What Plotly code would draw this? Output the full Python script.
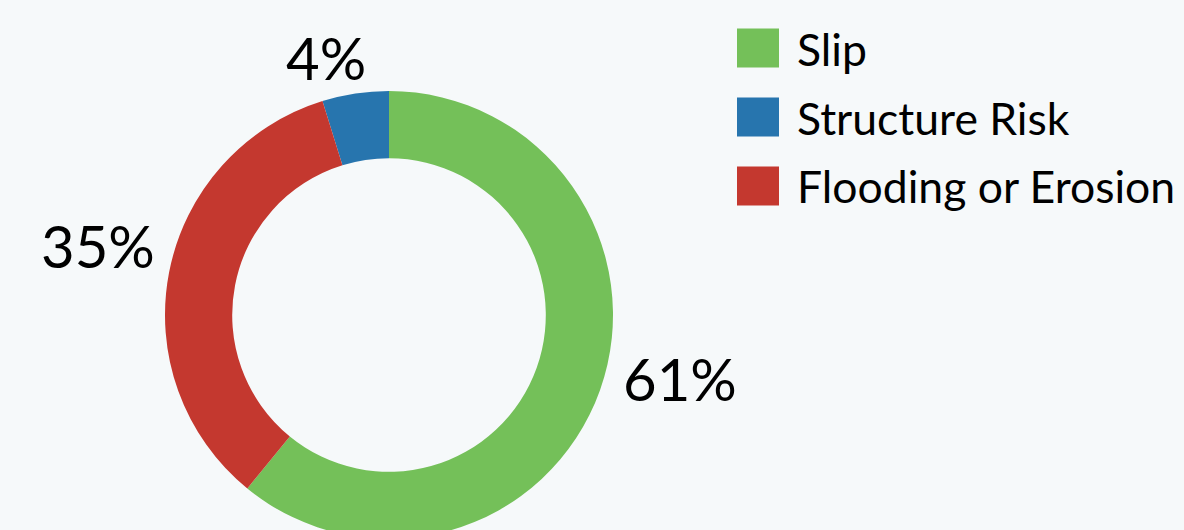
import math
import plotly.graph_objects as go

# ---- data ----
categories = ["Slip", "Structure Risk", "Flooding or Erosion"]
shares = [60.9, 4.8, 34.3]          # slice sizes
share_labels = ["61%", "4%", "35%"]  # printed labels
colors = ["#74c059", "#2775ae", "#c4382f"]

W, H = 1184, 550
BG = "#f6f9fa"
FONT = "Lato"

def py(y):
    return 1 - y / H

def px(x):
    return x / W

cx, cy, R = 389, 315, 224
# label anchor points (pixels, layout only)
label_xy = [(680, 378), (326, 57), (98, 245)]

fig = go.Figure(go.Pie(
    labels=categories,
    values=shares,
    textinfo="none",
    marker=dict(colors=colors, line=dict(width=0)),
    hole=0.70,
    sort=False,
    direction="counterclockwise",
    rotation=0,
    showlegend=False,
    hoverinfo="label+percent",
    domain=dict(x=[px(cx - R), px(cx + R)], y=[py(cy + R), py(cy - R)]),
))

shapes = []
annotations = []
for lab, (lx, ly) in zip(share_labels, label_xy):
    annotations.append(dict(x=px(lx), y=py(ly), xref="paper", yref="paper",
                            text=lab, showarrow=False, xanchor="center", yanchor="middle",
                            font=dict(family=FONT, size=58, color="#000000")))

# custom legend with large swatches
row0, step = 48, 69
for i, (name, col) in enumerate(zip(categories, colors)):
    yc = row0 + i * step
    shapes.append(dict(type="rect", xref="paper", yref="paper",
                       x0=px(737), x1=px(779), y0=py(yc + 19.5), y1=py(yc - 19.5),
                       fillcolor=col, line=dict(width=0)))
    annotations.append(dict(x=px(795), y=py(yc), xref="paper", yref="paper",
                            text=name, showarrow=False, xanchor="left", yanchor="middle",
                            font=dict(family=FONT, size=44.5, color="#000000")))

fig.update_layout(
    width=W, height=H,
    margin=dict(l=0, r=0, t=0, b=0),
    paper_bgcolor=BG, plot_bgcolor=BG,
    shapes=shapes, annotations=annotations,
)

fig.write_html("out.html", config={"displayModeBar": False},
               post_script="document.body.style.overflow='hidden';document.body.style.margin='0';")
